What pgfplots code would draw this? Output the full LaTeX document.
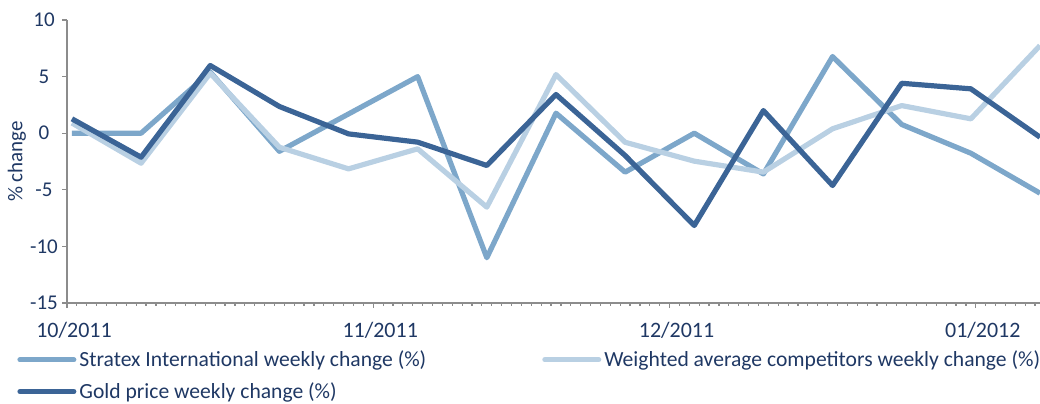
\documentclass[border=0pt]{standalone}
\usepackage{pgfplots}
\pgfplotsset{compat=1.18}
\usepackage{fontspec}
\setmainfont{Carlito}
\definecolor{cS}{HTML}{7DA7CA}
\definecolor{cW}{HTML}{B9D0E3}
\definecolor{cG}{HTML}{3B6496}
\definecolor{txt}{HTML}{1F3864}
\definecolor{axc}{HTML}{8C8C8C}
\pgfplotstableread{
x S W G
0.5 0.0 0.9 1.27
7.5 0.0 -2.65 -2.12
14.5 5.4 5.3 5.98
21.5 -1.6 -1.24 2.36
28.5 1.7 -3.15 -0.06
35.5 5.0 -1.38 -0.79
42.5 -11.0 -6.53 -2.85
49.5 1.77 5.18 3.42
56.5 -3.44 -0.8 -1.97
63.5 0.0 -2.47 -8.15
70.5 -3.6 -3.44 2.0
77.5 6.77 0.39 -4.62
84.5 0.77 2.44 4.41
91.5 -1.77 1.27 3.92
98.5 -5.3 7.74 -0.35
}\data
\begin{document}
\begin{tikzpicture}
\begin{axis}[
 scale only axis, width=486.5pt, height=141.5pt,
 xmin=0, xmax=98.5, ymin=-15, ymax=10,
 axis x line*=bottom, axis y line*=left,
 axis line style={axc, line width=0.7pt},
 ytick={-15,-10,...,10},
 xtick={0,31,61,92}, xticklabels={10/2011,11/2011,12/2011,01/2012},
 minor xtick={0,...,98},
 tick align=outside, major tick length=2.5pt, minor tick length=1.4pt,
 tick style={axc, line width=0.6pt},
 every tick label/.append style={font=\fontsize{10.5}{12}\selectfont, text=txt},
 xticklabel style={font=\fontsize{11}{12}\selectfont, xshift=3.5pt, yshift=-3.5pt},
 /pgf/number format/assume math mode=true,
 yticklabel style={anchor=center, xshift=-9pt},
 every axis y label/.style={at={(rel axis cs:0,0.5)}, xshift=-25pt, rotate=90, anchor=center, font=\fontsize{10.5}{12}\selectfont, text=txt},
 ylabel={\% change},
 legend columns=2,
 legend style={at={(rel axis cs:0,0)}, anchor=north west, xshift=-25pt, yshift=-22.5pt,
   draw=none, fill=none, font=\fontsize{10.8}{12}\selectfont, text=txt,
   inner sep=0pt, row sep=4.5pt,
   nodes={inner xsep=1.5pt, inner ysep=1pt},
   /tikz/every even column/.append style={column sep=56.5pt}},
 legend cell align=left,
 legend image code/.code={\draw[#1, line width=2.5pt, line cap=round] (0pt,0pt) -- (27pt,0pt);},
 every axis plot/.append style={line width=2.6pt, line join=round},
]
\addplot[cS] table[x=x,y=S]{\data};
\addlegendentry{Stratex International weekly change (\%)}
\addplot[cW] table[x=x,y=W]{\data};
\addlegendentry{Weighted average competitors weekly change (\%)}
\addplot[cG] table[x=x,y=G]{\data};
\addlegendentry{Gold price weekly change (\%)}
\coordinate (A) at (rel axis cs:0,0);
\coordinate (B) at (rel axis cs:1,1);
\end{axis}
\pgfresetboundingbox
\path ([shift={(-33.5pt,-50pt)}]A) rectangle ([shift={(0pt,10pt)}]B);
\end{tikzpicture}
\end{document}
